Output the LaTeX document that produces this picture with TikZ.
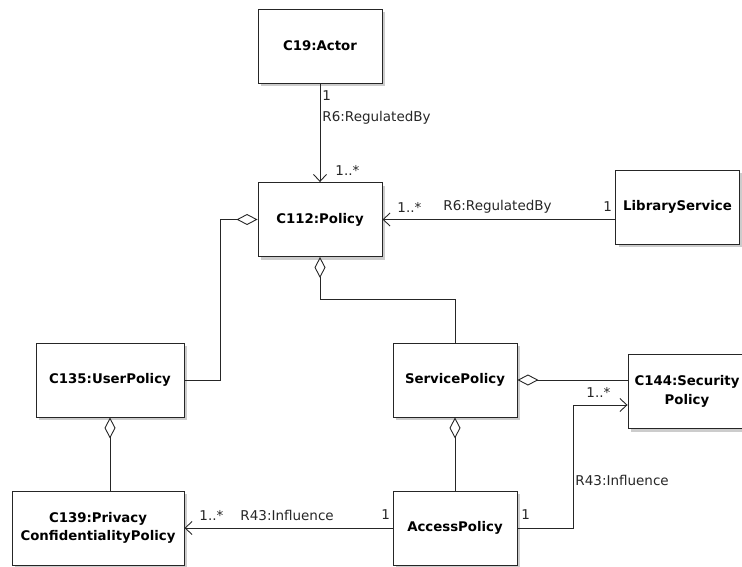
\documentclass[tikz,border=0pt]{standalone}
\usepackage{fontspec}
\setmainfont{DejaVu Sans}
\usetikzlibrary{arrows.meta,shadows}

\begin{document}
\begin{tikzpicture}[x=1pt, y=-1pt, line width=0.9pt, draw=black!85,
    cls/.style={draw=black!85, fill=white, minimum width=124pt, minimum height=74pt,
        align=center, font=\fontsize{13.3}{18.5}\selectfont\bfseries,
        drop shadow={shadow xshift=3pt, shadow yshift=-3pt, fill=black!20, opacity=1}},
    lbl/.style={anchor=west, inner sep=0pt, text=black!85, font=\fontsize{13.5}{16}\selectfont},
    nav/.style={-{Straight Barb[length=7pt, width=13pt]}},
    agg/.style={{Diamond[open, length=21pt, width=11pt]}-}]
    \clip (0,0) rectangle (742,566);

    \node[cls] (actor) at (320,46) {C19:Actor};
    \node[cls] (policy) at (320,219.5) {C112:Policy};
    \node[cls] (library) at (677.5,207) {LibraryService};
    \node[cls, minimum width=148pt] (user) at (110,380) {C135:UserPolicy};
    \node[cls] (service) at (455,380) {ServicePolicy};
    \node[cls, minimum width=118pt] (security) at (687,391.5) {C144:Security\\Policy};
    \node[cls] (access) at (455,528) {AccessPolicy};
    \node[cls, minimum width=172pt] (privacy) at (98,528) {C139:Privacy\\ConfidentialityPolicy};

    \draw[nav] (actor.south) -- (policy.north);
    \draw[nav] (policy.east -| library.west) -- (policy.east);
    \draw[agg] (policy.west) -- ++(-37,0) |- (user.east);
    \draw[agg] (policy.south) -- ++(0,42) -| (service.north);
    \draw[agg] (service.east) -- (service.east -| security.west);
    \draw[agg] (service.south) -- (access.north);
    \draw[agg] (user.south) -- (user.south |- privacy.north);
    \draw[nav] (access.west) -- (privacy.east);
    \draw[nav] (access.east) -- ++(56,0) |- ([yshift=-13.5pt]security.west);

    \node[lbl] (m1) at (322,96) {1};
    \node[lbl] (r1) at (322,118) {R6:RegulatedBy};
    \node[lbl] (m2) at (335,170) {1..*};
    \node[lbl] (m3) at (397,207) {1..*};
    \node[lbl] (r2) at (443,207) {R6:RegulatedBy};
    \node[lbl] (m4) at (603,207) {1};
    \node[lbl] (m5) at (586,392) {1..*};
    \node[lbl] (r3) at (575,480) {R43:Influence};
    \node[lbl] (m6) at (521,515) {1};
    \node[lbl] (m7) at (381,515) {1};
    \node[lbl] (m8) at (199,515) {1..*};
    \node[lbl] (r4) at (240,515) {R43:Influence};
\end{tikzpicture}
\end{document}
